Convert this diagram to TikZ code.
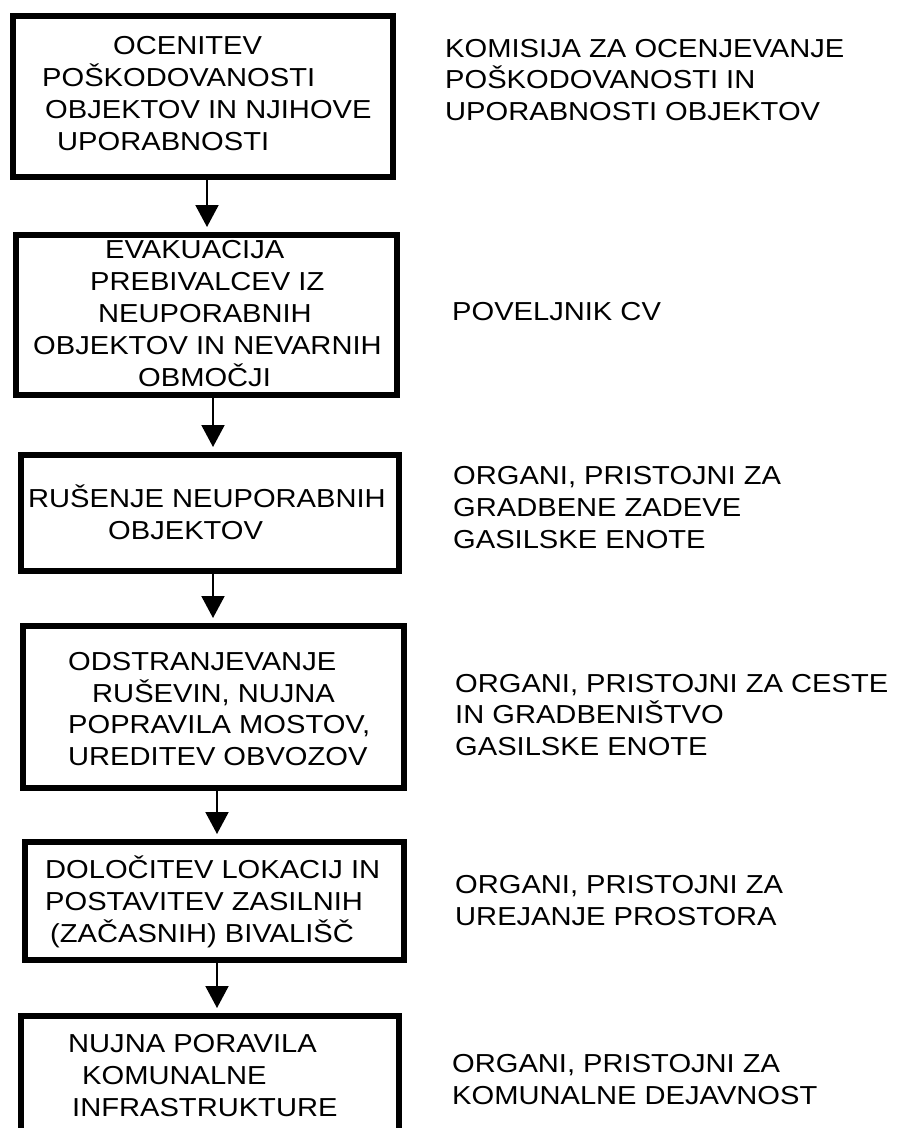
\documentclass[tikz,border=0pt]{standalone}
\usepackage{fontspec}
\setmainfont{Liberation Sans}[FakeStretch=1.12]
\usetikzlibrary{arrows.meta}
\newcommand\txtline[4]{\node[txt] (#1) at (#2,#3) {#4};}
\begin{document}
\begin{tikzpicture}[x=1pt,y=-1pt,
  box/.style={draw, line width=6pt, inner sep=0pt},
  txt/.style={anchor=base west, inner sep=0pt, font=\fontsize{26}{32}\selectfont},
  arr/.style={line width=2pt, -{Triangle[length=22pt,width=23pt]}, shorten >=5pt}]
\useasboundingbox (0,0) rectangle (899,1128);
\clip (0,0) rectangle (899,1128);
\fill[white] (0,0) rectangle (899,1128);

% boxes
\node[box, minimum width=380pt, minimum height=161pt] (b1) at (203,96.5) {};
\node[box, minimum width=381pt, minimum height=160pt] (b2) at (206.5,315) {};
\node[box, minimum width=378pt, minimum height=116pt] (b3) at (210,513) {};
\node[box, minimum width=381pt, minimum height=162pt] (b4) at (213.5,707) {};
\node[box, minimum width=379pt, minimum height=118pt] (b5) at (214.5,901) {};
\node[box, minimum width=378pt, minimum height=144pt] (b6) at (210,1088) {};

% arrows
\draw[arr] ([xshift=4pt]b1.south) -- ([xshift=4pt]b1.south |- b2.north);
\draw[arr] ([xshift=6.5pt]b2.south) -- ([xshift=6.5pt]b2.south |- b3.north);
\draw[arr] ([xshift=3pt]b3.south) -- ([xshift=3pt]b3.south |- b4.north);
\draw[arr] ([xshift=3.5pt]b4.south) -- ([xshift=3.5pt]b4.south |- b5.north);
\draw[arr] ([xshift=2.5pt]b5.south) -- ([xshift=2.5pt]b5.south |- b6.north);

% box texts
\txtline{b1a}{113}{54}{OCENITEV}
\txtline{b1b}{42}{86}{POŠKODOVANOSTI}
\txtline{b1c}{45}{118}{OBJEKTOV IN NJIHOVE}
\txtline{b1d}{57}{150}{UPORABNOSTI}

\txtline{b2a}{105}{258}{EVAKUACIJA}
\txtline{b2b}{90}{290}{PREBIVALCEV IZ}
\txtline{b2c}{98}{322}{NEUPORABNIH}
\txtline{b2d}{33}{354}{OBJEKTOV IN NEVARNIH}
\txtline{b2e}{138}{386}{OBMOČJI}

\txtline{b3a}{28}{507}{RUŠENJE NEUPORABNIH}
\txtline{b3b}{108}{539}{OBJEKTOV}

\txtline{b4a}{68}{670}{ODSTRANJEVANJE}
\txtline{b4b}{92}{702}{RUŠEVIN, NUJNA}
\txtline{b4c}{68}{733}{POPRAVILA MOSTOV,}
\txtline{b4d}{68}{765}{UREDITEV OBVOZOV}

\txtline{b5a}{45}{878}{DOLOČITEV LOKACIJ IN}
\txtline{b5b}{45}{910}{POSTAVITEV ZASILNIH}
\txtline{b5c}{50}{942}{(ZAČASNIH) BIVALIŠČ}

\txtline{b6a}{68}{1052}{NUJNA PORAVILA}
\txtline{b6b}{82}{1084}{KOMUNALNE}
\txtline{b6c}{72}{1116}{INFRASTRUKTURE}

% right column
\txtline{r1a}{445}{57}{KOMISIJA ZA OCENJEVANJE}
\txtline{r1b}{445}{88}{POŠKODOVANOSTI IN}
\txtline{r1c}{445}{120}{UPORABNOSTI OBJEKTOV}

\txtline{r2a}{452}{320}{POVELJNIK CV}

\txtline{r3a}{453}{484}{ORGANI, PRISTOJNI ZA}
\txtline{r3b}{453}{516}{GRADBENE ZADEVE}
\txtline{r3c}{453}{548}{GASILSKE ENOTE}

\txtline{r4a}{455}{692}{ORGANI, PRISTOJNI ZA CESTE}
\txtline{r4b}{455}{723}{IN GRADBENIŠTVO}
\txtline{r4c}{455}{755}{GASILSKE ENOTE}

\txtline{r5a}{455}{893}{ORGANI, PRISTOJNI ZA}
\txtline{r5b}{455}{925}{UREJANJE PROSTORA}

\txtline{r6a}{452}{1072}{ORGANI, PRISTOJNI ZA}
\txtline{r6b}{452}{1104}{KOMUNALNE DEJAVNOST}
\end{tikzpicture}
\end{document}
